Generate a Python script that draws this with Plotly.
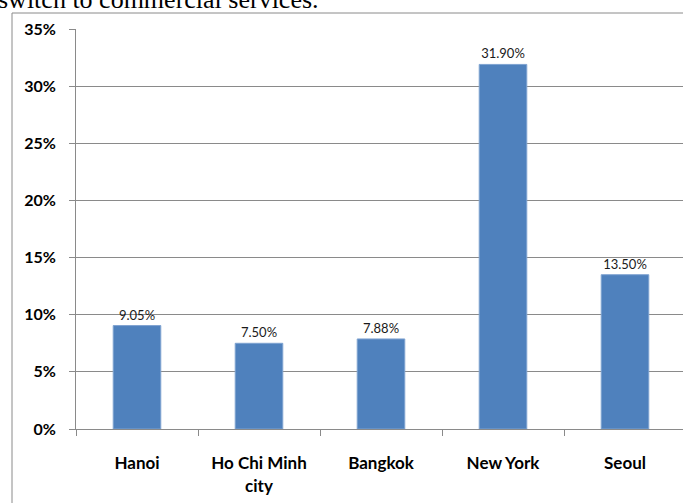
import plotly.graph_objects as go

cities = ["Hanoi", "Ho Chi Minh<br>city", "Bangkok", "New York", "Seoul"]
values = [0.0905, 0.0750, 0.0788, 0.3190, 0.1350]
labels = ["9.05%", "7.50%", "7.88%", "31.90%", "13.50%"]
y_ticks = [0, 0.05, 0.10, 0.15, 0.20, 0.25, 0.30, 0.35]
y_tick_text = ["0%", "5%", "10%", "15%", "20%", "25%", "30%", "35%"]

W, H = 683, 503
L, T, B = 76, 29, 74
pw = W - L
ph = H - T - B
cat_px = 122.0

fig = go.Figure()
fig.add_trace(go.Bar(
    x=cities, y=values,
    marker=dict(color="#4F81BD", line=dict(color="#7FA3D1", width=1)),
    width=0.39,
    text=labels, textposition="outside", cliponaxis=False,
    textfont=dict(family="Lato", size=13, color="#1a1a1a"),
))

def px_x(p):
    return (p - L) / pw

def px_y(p):
    return (H - B - p) / ph

fig.add_shape(type="rect", xref="paper", yref="paper",
              x0=px_x(12), x1=px_x(700), y0=px_y(520), y1=px_y(13),
              line=dict(color="#8a8a8a", width=1), layer="below")

fig.add_annotation(text="switch to commercial services.", xref="paper", yref="paper",
                   x=px_x(-4), y=px_y(-1), xanchor="left", yanchor="middle",
                   showarrow=False,
                   font=dict(family="Liberation Serif", size=26, color="#000000"))

fig.update_layout(
    width=W, height=H,
    margin=dict(l=L, r=0, t=T, b=B, pad=0),
    paper_bgcolor="white", plot_bgcolor="white",
    showlegend=False,
    font=dict(family="Lato", color="#000000"),
    xaxis=dict(
        type="category",
        range=[-0.5, -0.5 + pw / cat_px],
        tickson="boundaries", ticks="outside", ticklen=6, tickcolor="#8a8a8a",
        showline=True, linecolor="#8a8a8a", linewidth=1,
        showgrid=False, zeroline=False,
        tickfont=dict(family="Lato", size=17, color="#000000", weight="bold"),
        ticklabelstandoff=19,
    ),
    yaxis=dict(
        range=[0, 0.35],
        tickmode="array", tickvals=y_ticks, ticktext=y_tick_text,
        ticks="outside", ticklen=6, tickcolor="#8a8a8a",
        showline=True, linecolor="#8a8a8a", linewidth=1,
        showgrid=True, gridcolor="#8a8a8a", gridwidth=1,
        zeroline=False,
        tickfont=dict(family="Lato", size=16, color="#000000", weight="bold"),
        ticklabelstandoff=10,
    ),
)

fig.write_html("out.html")
